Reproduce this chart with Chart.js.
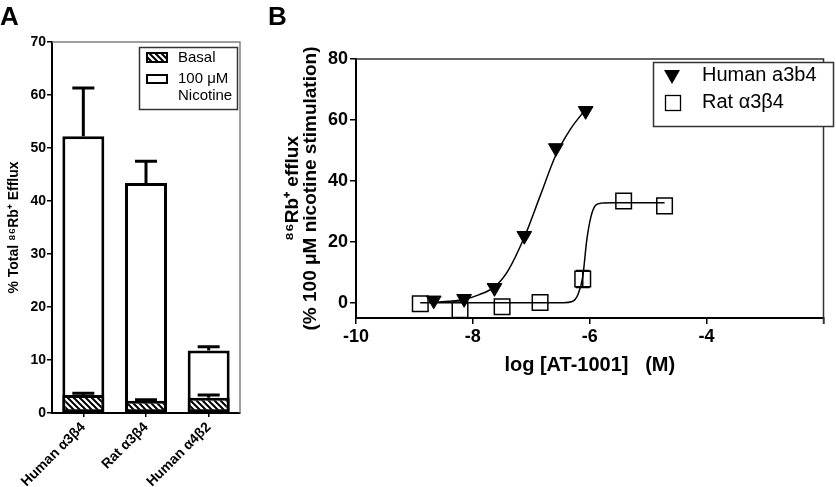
<!DOCTYPE html>
<html>
<head>
<meta charset="utf-8">
<script src="https://cdn.jsdelivr.net/npm/chart.js@4.4.1/dist/chart.umd.min.js"></script>
<style>
  body { margin: 0; background: #fff; }
  #wrap { position: relative; width: 836px; height: 487px; overflow: hidden; }
  .panel { position: absolute; top: 0; }
  .letter { position: absolute; font: bold 26px "Liberation Sans", Arial, sans-serif; line-height: 26px; color: #000; }
</style>
</head>
<body>
<div id="wrap">
  <canvas id="chartA" class="panel" width="250" height="487" style="left:0"></canvas>
  <canvas id="chartB" class="panel" width="586" height="487" style="left:250px"></canvas>
  <div class="letter" style="left:0;top:3px">A</div>
  <div class="letter" style="left:268px;top:3px">B</div>
</div>
<script>
// Panel A - bar data
const barCategories = ['Human α3β4', 'Rat α3β4', 'Human α4β2'];
const basalValues = [3.4, 2.3, 2.9];
const basalErrors = [0.35, 0.2, 0.5];
const nicotineValues = [52.2, 43.4, 11.8];
const nicotineErrors = [9.1, 4.1, 0.7];
const effluxTicks = [0, 10, 20, 30, 40, 50, 60, 70];

// Panel B - concentration response
const humanLogConc = [-8.67, -8.15, -7.63, -7.12, -6.58, -6.07];
const humanResponse = [0.8, 1.3, 4.9, 22, 50.8, 63];
const ratLogConc = [-8.9, -8.22, -7.5, -6.85, -6.12, -5.42, -4.72];
const ratResponse = [-0.3, -2.3, -1.3, 0.1, 7.8, 33.4, 31.8];
const ratErrors = [0, 0, 0, 0, 2.8, 0, 0];
// fitted curves
const humanFitX = [-8.67, -8.4, -8.15, -7.9, -7.63, -7.4, -7.12, -6.85, -6.58, -6.33, -6.07];
const humanFitY = [0.2, 0.5, 1.1, 2.6, 5.2, 10.5, 21.5, 35, 48.5, 57, 63.5];
const ratFitX = [-8.9, -6.45, -6.3, -6.2, -6.12, -6.05, -5.98, -5.9, -5.8, -5.6, -4.72];
const ratFitY = [0, 0, 0.4, 2.8, 8.5, 20.7, 28.2, 32, 32.7, 32.8, 32.8];
const logTicks = [-10, -8, -6, -4, -2];
const logTickLabels = ['-10', '-8', '-6', '-4', ''];
const responseTicks = [0, 20, 40, 60, 80];

const FONT = '"Liberation Sans", Arial, sans-serif';
Chart.defaults.font.family = FONT;
Chart.defaults.color = '#000';

// diagonal hatch for the basal bars
function makeHatch() {
  const c = document.createElement('canvas');
  c.width = 6; c.height = 6;
  const g = c.getContext('2d');
  g.fillStyle = '#fff';
  g.fillRect(0, 0, 6, 6);
  g.strokeStyle = '#000';
  g.lineWidth = 2;
  g.beginPath();
  g.moveTo(-1, -1); g.lineTo(7, 7);
  g.moveTo(-1, 5); g.lineTo(1, 7);
  g.moveTo(5, -1); g.lineTo(7, 1);
  g.stroke();
  return document.getElementById('chartA').getContext('2d').createPattern(c, 'repeat');
}
const hatch = makeHatch();

const errorBarsA = {
  id: 'errorBarsA',
  afterDatasetsDraw(chart) {
    const ctx = chart.ctx;
    const y = chart.scales.y;
    const sets = [[nicotineValues, nicotineErrors], [basalValues, basalErrors]];
    const metas = [chart.getDatasetMeta(1), chart.getDatasetMeta(0)];
    ctx.save();
    ctx.strokeStyle = '#000';
    ctx.lineWidth = 3;
    metas.forEach((meta, k) => {
      const [vals, errs] = sets[k];
      meta.data.forEach((bar, j) => {
        const y0 = y.getPixelForValue(vals[j]);
        const y1 = y.getPixelForValue(vals[j] + errs[j]);
        ctx.beginPath();
        ctx.moveTo(bar.x, y0);
        ctx.lineTo(bar.x, y1);
        ctx.moveTo(bar.x - 11, y1);
        ctx.lineTo(bar.x + 11, y1);
        ctx.stroke();
      });
    });
    ctx.restore();
  },
  afterDraw(chart) {
    const ctx = chart.ctx;
    const a = chart.chartArea;
    ctx.save();
    // grey frame on top and right
    ctx.strokeStyle = '#808080';
    ctx.lineWidth = 1.5;
    ctx.beginPath();
    ctx.moveTo(a.left, a.top);
    ctx.lineTo(a.right, a.top);
    ctx.lineTo(a.right, a.bottom);
    ctx.stroke();
    // legend
    ctx.fillStyle = '#fff';
    ctx.fillRect(139, 47, 98, 62);
    ctx.strokeStyle = '#333';
    ctx.lineWidth = 1.5;
    ctx.strokeRect(139.5, 47.5, 98, 62);
    ctx.lineWidth = 2;
    ctx.fillStyle = hatch;
    ctx.fillRect(147, 53, 20, 9);
    ctx.strokeStyle = '#000';
    ctx.strokeRect(147, 53, 20, 9);
    ctx.fillStyle = '#fff';
    ctx.fillRect(147, 75, 20, 8);
    ctx.strokeRect(147, 75, 20, 8);
    ctx.fillStyle = '#000';
    ctx.font = '15px ' + FONT;
    ctx.textBaseline = 'middle';
    ctx.fillText('Basal', 178, 58);
    ctx.fillText('100 μM', 178, 79);
    ctx.fillText('Nicotine', 178, 96);
    ctx.restore();
  }
};

new Chart(document.getElementById('chartA'), {
  type: 'bar',
  data: {
    labels: barCategories,
    datasets: [{
      label: 'Basal',
      data: basalValues,
      backgroundColor: hatch,
      borderColor: '#000',
      borderWidth: 3,
      borderSkipped: false,
      grouped: false,
      categoryPercentage: 1,
      barPercentage: 0.67
    }, {
      label: '100 μM Nicotine',
      data: nicotineValues,
      backgroundColor: '#fff',
      borderColor: '#000',
      borderWidth: 3,
      borderSkipped: false,
      grouped: false,
      categoryPercentage: 1,
      barPercentage: 0.67
    }]
  },
  options: {
    responsive: false,
    animation: false,
    layout: { padding: { left: 0, top: 42, right: 10, bottom: 0 } },
    plugins: { legend: { display: false }, tooltip: { enabled: false } },
    scales: {
      x: {
        afterFit: s => { s.height = 74; },
        grid: { drawOnChartArea: false, offset: false, tickLength: 4, color: '#000', lineWidth: 1.5 },
        border: { display: true, color: '#000', width: 2 },
        ticks: { minRotation: 45, maxRotation: 45, autoSkip: false, padding: 2, font: { size: 14, weight: 'bold' } }
      },
      y: {
        min: 0,
        max: 70,
        afterFit: s => { s.width = 52; },
        afterBuildTicks: s => { s.ticks = effluxTicks.map(v => ({ value: v })); },
        grid: { drawOnChartArea: false, tickLength: 5, color: '#000', lineWidth: 1.5 },
        border: { display: true, color: '#000', width: 2 },
        ticks: { padding: 1, font: { size: 14, weight: 'bold' } },
        title: {
          display: true,
          text: '% Total ⁸⁶Rb⁺ Efflux',
          padding: { top: 6, bottom: 0 },
          font: { size: 14, weight: 'bold' }
        }
      }
    }
  },
  plugins: [errorBarsA]
});

const panelB = {
  id: 'panelB',
  afterDatasetsDraw(chart) {
    const ctx = chart.ctx;
    const xs = chart.scales.x, ys = chart.scales.y;
    ctx.save();
    ctx.strokeStyle = '#000';
    ctx.lineWidth = 1.5;
    ratErrors.forEach((e, i) => {
      if (!e) return;
      const x = xs.getPixelForValue(ratLogConc[i]);
      const y0 = ys.getPixelForValue(ratResponse[i] - e);
      const y1 = ys.getPixelForValue(ratResponse[i] + e);
      ctx.beginPath();
      ctx.moveTo(x, y0); ctx.lineTo(x, y1);
      ctx.moveTo(x - 7, y0); ctx.lineTo(x + 7, y0);
      ctx.moveTo(x - 7, y1); ctx.lineTo(x + 7, y1);
      ctx.stroke();
    });
    ctx.restore();
  },
  afterDraw(chart) {
    const ctx = chart.ctx;
    const a = chart.chartArea;
    ctx.save();
    ctx.strokeStyle = '#333';
    ctx.lineWidth = 1.5;
    ctx.beginPath();
    ctx.moveTo(a.left, a.top);
    ctx.lineTo(a.right, a.top);
    ctx.lineTo(a.right, a.bottom + 6);
    ctx.stroke();
    // legend
    ctx.fillStyle = '#fff';
    ctx.fillRect(403, 62, 180, 64);
    ctx.strokeRect(403.5, 62.5, 180, 64);
    ctx.fillStyle = '#000';
    ctx.beginPath();
    ctx.moveTo(414, 70); ctx.lineTo(430, 70); ctx.lineTo(422, 84);
    ctx.closePath();
    ctx.fill();
    ctx.fillStyle = '#fff';
    ctx.fillRect(415, 95, 15, 15);
    ctx.strokeStyle = '#000';
    ctx.lineWidth = 1.3;
    ctx.strokeRect(415.5, 95.5, 15, 15);
    ctx.fillStyle = '#000';
    ctx.font = '20px ' + FONT;
    ctx.textBaseline = 'middle';
    ctx.fillText('Human a3b4', 452, 75);
    ctx.fillText('Rat α3β4', 452, 102);
    ctx.restore();
  }
};

new Chart(document.getElementById('chartB'), {
  type: 'scatter',
  data: {
    datasets: [{
      label: 'Human a3b4',
      data: humanLogConc.map((x, i) => ({ x, y: humanResponse[i] })),
      pointStyle: 'triangle',
      rotation: 180,
      pointRadius: 8.5,
      backgroundColor: '#000',
      borderColor: '#000',
      borderWidth: 1,
      showLine: false
    }, {
      label: 'Rat α3β4',
      data: ratLogConc.map((x, i) => ({ x, y: ratResponse[i] })),
      pointStyle: 'rect',
      pointRadius: 11,
      backgroundColor: 'rgba(255,255,255,0)',
      borderColor: '#000',
      borderWidth: 1.5,
      showLine: false
    }, {
      label: 'human fit',
      data: humanFitX.map((x, i) => ({ x, y: humanFitY[i] })),
      showLine: true,
      pointRadius: 0,
      borderColor: '#000',
      borderWidth: 1.5,
      cubicInterpolationMode: 'monotone'
    }, {
      label: 'rat fit',
      data: ratFitX.map((x, i) => ({ x, y: ratFitY[i] })),
      showLine: true,
      pointRadius: 0,
      borderColor: '#000',
      borderWidth: 1.5,
      cubicInterpolationMode: 'monotone'
    }]
  },
  options: {
    responsive: false,
    animation: false,
    layout: { padding: { left: 0, top: 59, right: 1, bottom: 107 } },
    plugins: { legend: { display: false }, tooltip: { enabled: false } },
    scales: {
      x: {
        min: -10,
        max: -2,
        afterFit: s => { s.height = 62; },
        afterBuildTicks: s => { s.ticks = logTicks.map(v => ({ value: v })); },
        grid: { drawOnChartArea: false, tickLength: 6, color: '#000', lineWidth: 1.5 },
        border: { display: true, color: '#000', width: 2 },
        ticks: {
          padding: 2,
          font: { size: 18, weight: 'bold' },
          callback: (v, i) => logTickLabels[i]
        },
        title: {
          display: true,
          text: 'log [AT-1001]   (M)',
          padding: { top: 0, bottom: 3 },
          font: { size: 20, weight: 'bold' }
        }
      },
      y: {
        min: -5,
        max: 80,
        afterFit: s => { s.width = 106; },
        afterBuildTicks: s => { s.ticks = responseTicks.map(v => ({ value: v })); },
        grid: { drawOnChartArea: false, tickLength: 6, color: '#000', lineWidth: 1.5 },
        border: { display: true, color: '#000', width: 2 },
        ticks: { padding: 2, font: { size: 18, weight: 'bold' } },
        title: {
          display: true,
          text: ['⁸⁶Rb⁺ efflux', '(% 100 μM nicotine stimulation)'],
          padding: { top: 34, bottom: 0 },
          font: { size: 19, weight: 'bold', lineHeight: 0.95 }
        }
      }
    }
  },
  plugins: [panelB]
});
</script>
</body>
</html>
